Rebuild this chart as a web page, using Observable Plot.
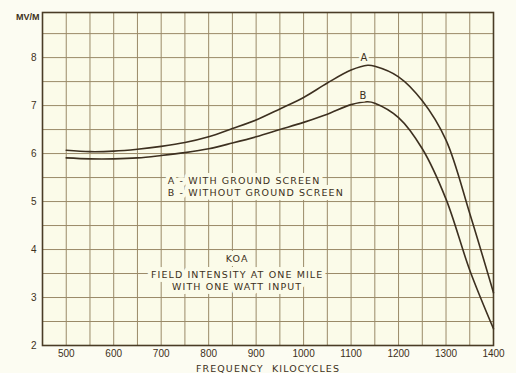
<!DOCTYPE html>
<html><head><meta charset="utf-8">
<script src="https://cdn.jsdelivr.net/npm/d3@7"></script>
<script src="https://cdn.jsdelivr.net/npm/@observablehq/plot@0.6"></script>
<style>
html,body{margin:0;padding:0;background:#fcfcf2;}
#chart svg{display:block;}
</style></head><body><div id="chart"></div>
<script>
// Frequency in kilocycles
const freq   = [500, 550, 600, 650, 700, 750, 800, 850, 900, 950, 1000, 1050, 1100, 1135, 1150, 1200, 1250, 1300, 1350, 1400];
// Curve A - with ground screen (mV/m)
const curveA = [6.07, 6.04, 6.05, 6.09, 6.15, 6.23, 6.35, 6.52, 6.70, 6.93, 7.17, 7.47, 7.74, 7.84, 7.82, 7.60, 7.10, 6.28, 4.75, 3.10];
// Curve B - without ground screen (mV/m)
const curveB = [5.91, 5.89, 5.89, 5.91, 5.96, 6.02, 6.10, 6.22, 6.35, 6.50, 6.65, 6.82, 7.02, 7.08, 7.05, 6.75, 6.10, 5.05, 3.57, 2.35];
const xTicks = [500, 600, 700, 800, 900, 1000, 1100, 1200, 1300, 1400];
const yTicks = [2, 3, 4, 5, 6, 7, 8];
const curveNames  = ["A", "B"];
const legendLines = ["A - WITH GROUND SCREEN", "B - WITHOUT GROUND SCREEN"];
const noteLines   = ["KOA", "FIELD INTENSITY AT ONE MILE", "WITH ONE WATT INPUT"];
const yUnit = "MV/M";
const xTitle = "FREQUENCY  KILOCYCLES";

const rows = [];
freq.forEach((f, i) => {
  rows.push({series: "A", f, v: curveA[i]});
  rows.push({series: "B", f, v: curveB[i]});
});
const curveLabelPos = [{t: curveNames[0], f: 1127, v: 7.99}, {t: curveNames[1], f: 1125, v: 7.2}];
const legendPos = legendLines.map((t, i) => ({t, f: 714, v: [5.42, 5.17][i]}));
const notePos = noteLines.map((t, i) => ({t, f: 860, v: [3.8, 3.48, 3.21][i]}));

const ink = "#3d3020";
const gridCol = "#9a8a68";
const paper = "#fbfbe9";

const plot = Plot.plot({
  width: 516,
  height: 373,
  marginLeft: 42,
  marginTop: 12,
  marginRight: 23,
  marginBottom: 28,
  style: {background: "#fcfcf2", fontFamily: "Liberation Sans, sans-serif", fontSize: "10px", color: ink},
  x: {domain: [450, 1400]},
  y: {domain: [2, 8.94]},
  marks: [
    Plot.frame({fill: paper}),
    Plot.gridX(d3.range(450, 1401, 50), {stroke: gridCol, strokeOpacity: 1, strokeWidth: 1}),
    Plot.gridY(d3.range(2, 8.9, 0.5), {stroke: gridCol, strokeOpacity: 1, strokeWidth: 1}),
    Plot.frame({stroke: "#4a3c26", strokeWidth: 1.6}),
    Plot.axisX(xTicks, {tickSize: 0, tickPadding: 4, tickFormat: d => String(d), label: null, fill: ink}),
    Plot.axisY(yTicks, {tickSize: 0, tickPadding: 6, tickFormat: d => String(d), label: null, fill: ink}),
    Plot.text([yUnit], {frameAnchor: "top-left", dx: -3, dy: 1, textAnchor: "end", fontSize: 9, fontWeight: "bold", fill: ink}),
    Plot.text([xTitle], {frameAnchor: "bottom", lineAnchor: "middle", dy: 23, fontSize: 9.5, fontFamily: "DejaVu Sans", fill: ink, className: "spaced"}),
    Plot.line(rows, {x: "f", y: "v", z: "series", curve: "catmull-rom", stroke: ink, strokeWidth: 1.6}),
    Plot.text(curveLabelPos, {x: "f", y: "v", text: "t", fontSize: 10, fontFamily: "DejaVu Sans", fill: ink, stroke: paper, strokeWidth: 5}),
    Plot.text(legendPos, {x: "f", y: "v", text: "t", textAnchor: "start", fontSize: 9.5, fontFamily: "DejaVu Sans", fill: ink, stroke: paper, strokeWidth: 8, className: "spaced"}),
    Plot.text(notePos, {x: "f", y: "v", text: "t", fontSize: 9.5, fontFamily: "DejaVu Sans", fill: ink, stroke: paper, strokeWidth: 8, className: "spaced"})
  ]
});
plot.querySelectorAll(".spaced text").forEach(t => t.setAttribute("letter-spacing", "1.1"));
document.getElementById("chart").appendChild(plot);
</script>
</body></html>
